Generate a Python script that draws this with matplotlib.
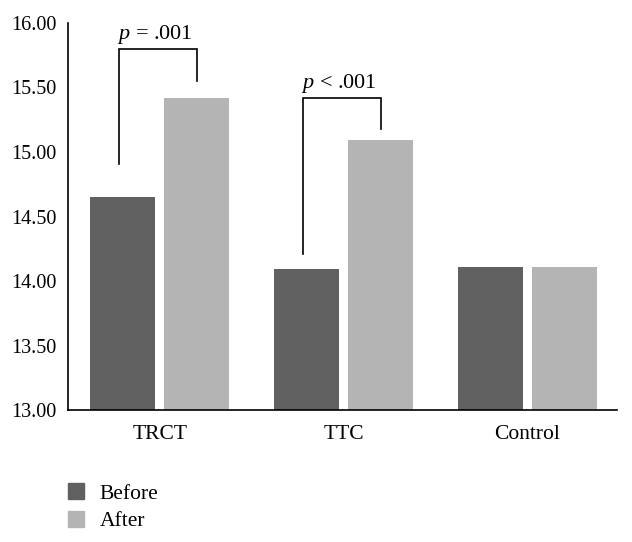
import matplotlib
matplotlib.use("Agg")
import matplotlib.pyplot as plt
from matplotlib.patches import Patch
import numpy as np

groups = ["TRCT", "TTC", "Control"]
before = [14.65, 14.09, 14.11]
after = [15.42, 15.09, 14.11]
y_ticks = [13.00, 13.50, 14.00, 14.50, 15.00, 15.50, 16.00]

# significance brackets: group index, top level, left foot, right foot, label
brackets = [
    (0, 15.80, 14.91, 15.55, "$p$ = .001"),
    (1, 15.42, 14.21, 15.18, "$p$ < .001"),
]

C_BEFORE = "#606060"
C_AFTER = "#b4b4b4"

plt.rcParams["font.family"] = ["Liberation Serif", "DejaVu Serif"]
plt.rcParams["mathtext.fontset"] = "custom"
plt.rcParams["mathtext.rm"] = "Liberation Serif"
plt.rcParams["mathtext.it"] = "Liberation Serif:italic"
plt.rcParams["font.size"] = 14.5

fig = plt.figure(figsize=(6.32, 5.42), dpi=100)
ax = fig.add_axes([0.1076, 0.2435, 0.8687, 0.7141])

x = np.arange(len(groups))
w = 0.354
off = 0.2016
ax.bar(x - off, before, width=w, color=C_BEFORE, bottom=0)
ax.bar(x + off, after, width=w, color=C_AFTER, bottom=0)

for gi, top, lfoot, rfoot, label in brackets:
    xl, xr = gi - off - 0.02, gi + off
    ax.plot([xl, xl, xr, xr], [lfoot, top, top, rfoot], color="black", lw=1.2,
            solid_joinstyle="miter")
    ax.text(xl - 0.01, top + 0.075, label, ha="left", va="baseline", fontsize=16)

ax.set_xlim(-0.501, 2.49)
ax.set_ylim(13.0, 16.0)
ax.set_yticks(y_ticks)
ax.set_yticklabels([f"{v:.2f}" for v in y_ticks], fontsize=14.5)
ax.set_xticks(x)
ax.set_xticklabels(groups, fontsize=15.5)
ax.tick_params(axis="both", length=0)
ax.tick_params(axis="y", pad=8)
ax.tick_params(axis="x", pad=10.5)
for s in ("top", "right"):
    ax.spines[s].set_visible(False)
for s in ("left", "bottom"):
    ax.spines[s].set_linewidth(1.2)

handles = [Patch(color=C_BEFORE, label="Before"), Patch(color=C_AFTER, label="After")]
fig.legend(handles=handles, loc="upper left", bbox_to_anchor=(0.107, 0.108),
           frameon=False, handlelength=0.76, handleheight=0.76, handletextpad=0.72,
           labelspacing=0.33, fontsize=15.5, borderaxespad=0, borderpad=0)

fig.savefig("out.png", dpi=100)
